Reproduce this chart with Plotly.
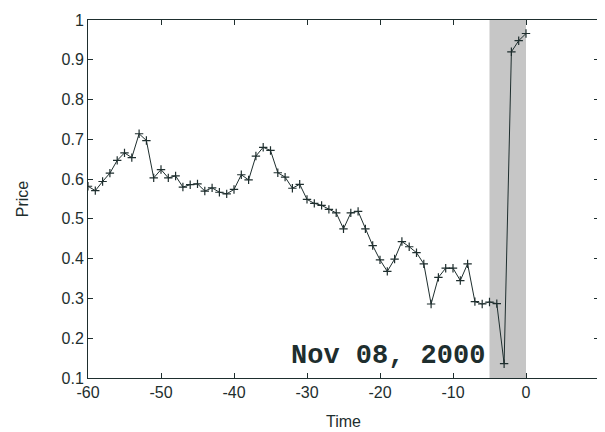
import plotly.graph_objects as go

time = list(range(-60, 1))
price = [0.582, 0.571, 0.594, 0.615, 0.647, 0.666, 0.654, 0.714, 0.697, 0.603,
         0.624, 0.603, 0.608, 0.580, 0.586, 0.588, 0.570, 0.578, 0.567, 0.563,
         0.574, 0.611, 0.598, 0.658, 0.680, 0.672, 0.616, 0.605, 0.577, 0.587,
         0.549, 0.539, 0.534, 0.524, 0.515, 0.475, 0.515, 0.519, 0.475, 0.433,
         0.397, 0.368, 0.399, 0.443, 0.430, 0.415, 0.387, 0.286, 0.353, 0.376,
         0.376, 0.345, 0.387, 0.292, 0.286, 0.291, 0.287, 0.136, 0.920, 0.948,
         0.966]
shade_range = [-5, 0]
x_ticks = [-60, -50, -40, -30, -20, -10, 0, 10]
x_labels = ["-60", "-50", "-40", "-30", "-20", "-10", "0", "10"]
y_ticks = [0.1, 0.2, 0.3, 0.4, 0.5, 0.6, 0.7, 0.8, 0.9, 1]
y_labels = ["0.1", "0.2", "0.3", "0.4", "0.5", "0.6", "0.7", "0.8", "0.9", "1"]
annotation_text = "Nov 08, 2000"

ink = "#1e2e2e"
sans = "Liberation Sans, Arial, sans-serif"

fig = go.Figure()
fig.add_trace(go.Scatter(
    x=time, y=price, mode="lines+markers",
    line=dict(color=ink, width=1),
    marker=dict(symbol="cross-thin", size=6, line=dict(color=ink, width=1.2)),
    showlegend=False,
))

fig.add_shape(type="rect", xref="x", yref="paper",
              x0=shade_range[0], x1=shade_range[1], y0=0, y1=1,
              fillcolor="#c6c6c6", line=dict(width=0), layer="below")

fig.add_annotation(x=shade_range[0], y=0.155, xref="x", yref="y",
                   text="<b>" + annotation_text + "</b>", showarrow=False,
                   xanchor="right", yanchor="middle", xshift=-3,
                   font=dict(family="Liberation Mono, Courier New, monospace",
                             size=27, color=ink))

axis_common = dict(showgrid=False, zeroline=False, showline=True, linecolor=ink,
                   linewidth=1, mirror="ticks", ticks="inside", ticklen=5,
                   tickcolor=ink, automargin=False,
                   tickfont=dict(family=sans, size=16, color=ink))

fig.update_xaxes(range=[-60, 10], tickvals=x_ticks, ticktext=x_labels,
                 title=dict(text="Time", standoff=15,
                            font=dict(family=sans, size=16, color=ink)),
                 **axis_common)
fig.update_yaxes(range=[0.1, 1], tickvals=y_ticks, ticktext=y_labels,
                 title=dict(text="Price", standoff=28,
                            font=dict(family=sans, size=16, color=ink)),
                 **axis_common)

fig.update_layout(width=597, height=424,
                  margin=dict(l=80, r=6, t=12, b=54),
                  plot_bgcolor="white", paper_bgcolor="white")

fig.write_html("out.html")
